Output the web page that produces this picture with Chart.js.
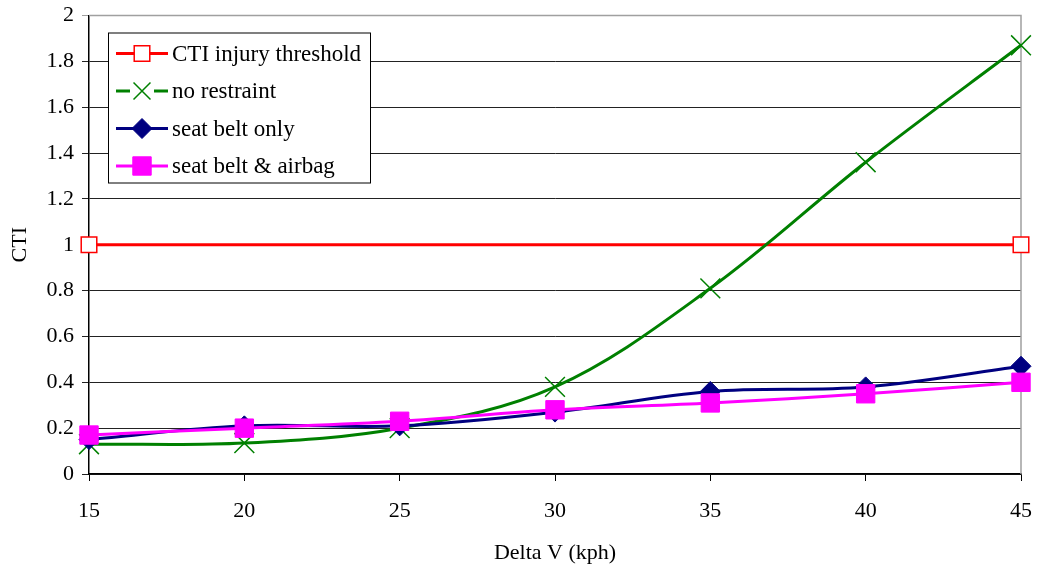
<!DOCTYPE html>
<html>
<head>
<meta charset="utf-8">
<script src="https://cdn.jsdelivr.net/npm/chart.js@4/dist/chart.umd.min.js"></script>
<style>
  html, body { margin: 0; padding: 0; background: #fff; }
  #wrap { width: 1039px; height: 568px; }
</style>
</head>
<body>
<div id="wrap"><canvas id="cti_chart" width="1039" height="568"></canvas></div>
<script>
var delta_v = [15, 20, 25, 30, 35, 40, 45];
var threshold_x = [15, 45];
var threshold = [1, 1];
var no_restraint = [0.13, 0.135, 0.2, 0.38, 0.81, 1.36, 1.87];
var belt_only = [0.15, 0.21, 0.21, 0.27, 0.36, 0.38, 0.47];
var belt_airbag = [0.17, 0.2, 0.23, 0.28, 0.31, 0.35, 0.4];
var y_ticks = [0, 0.2, 0.4, 0.6, 0.8, 1, 1.2, 1.4, 1.6, 1.8, 2];

var serif = '"Liberation Serif", "Times New Roman", serif';

function toPoints(xs, ys) {
  return xs.map(function (x, i) { return { x: x, y: ys[i] }; });
}

function noPad(s) {
  s.paddingLeft = 0;
  s.paddingRight = 0;
  s.paddingTop = 0;
  s.paddingBottom = 0;
}

// legend drawn inside the plot, line + marker like the original
var boxLegend = {
  id: 'boxLegend',
  afterDraw: function (chart) {
    var ctx = chart.ctx;
    var a = chart.chartArea;
    var x0 = a.left + 19, y0 = a.top + 17, w = 262, h = 150;
    ctx.save();
    ctx.fillStyle = '#fff';
    ctx.fillRect(x0, y0, w, h);
    ctx.strokeStyle = '#000';
    ctx.lineWidth = 1;
    ctx.strokeRect(x0 + 0.5, y0 + 0.5, w, h);
    ctx.font = '23px ' + serif;
    ctx.textBaseline = 'middle';
    chart.data.datasets.forEach(function (ds, i) {
      var cy = y0 + 21 + i * 37.5;
      var lx = x0 + 8, rx = x0 + 60, mx = (lx + rx) / 2;
      ctx.strokeStyle = ds.borderColor;
      ctx.lineWidth = 3;
      ctx.beginPath();
      ctx.moveTo(lx, cy);
      ctx.lineTo(rx, cy);
      ctx.stroke();
      if (ds.pointStyle === 'crossRot') {
        ctx.fillStyle = '#fff';
        ctx.fillRect(mx - 12, cy - 3, 24, 6);
      }
      ctx.fillStyle = ds.pointBackgroundColor;
      ctx.strokeStyle = ds.pointBorderColor;
      ctx.lineWidth = ds.pointBorderWidth;
      var r = ds.pointStyle === 'crossRot' ? 12 : ds.pointRadius;
      Chart.helpers.drawPoint(ctx, { pointStyle: ds.pointStyle, radius: r, borderWidth: ds.pointBorderWidth }, mx, cy);
      ctx.fillStyle = '#000';
      ctx.textAlign = 'left';
      ctx.fillText(ds.label, rx + 4, cy + 1);
    });
    ctx.restore();
  }
};

var plotFrame = {
  id: 'plotFrame',
  beforeDatasetsDraw: function (chart) {
    var ctx = chart.ctx;
    var a = chart.chartArea;
    ctx.save();
    ctx.strokeStyle = '#a0a0a0';
    ctx.lineWidth = 1.5;
    ctx.beginPath();
    ctx.moveTo(a.left, a.top);
    ctx.lineTo(a.right, a.top);
    ctx.lineTo(a.right, a.bottom);
    ctx.stroke();
    ctx.restore();
  }
};

new Chart(document.getElementById('cti_chart').getContext('2d'), {
  type: 'line',
  data: {
    datasets: [
      {
        label: 'CTI injury threshold',
        data: toPoints(threshold_x, threshold),
        borderColor: '#ff0000',
        borderWidth: 3,
        pointStyle: 'rect',
        pointRadius: 11,
        pointBackgroundColor: '#fff',
        pointBorderColor: '#ff0000',
        pointBorderWidth: 1.5,
        tension: 0,
        clip: false,
        order: 3
      },
      {
        label: 'no restraint',
        data: toPoints(delta_v, no_restraint),
        borderColor: '#008000',
        borderWidth: 3,
        pointStyle: 'crossRot',
        pointRadius: 14,
        pointBackgroundColor: '#008000',
        pointBorderColor: '#008000',
        pointBorderWidth: 1.5,
        tension: 0.35,
        clip: false,
        order: 2
      },
      {
        label: 'seat belt only',
        data: toPoints(delta_v, belt_only),
        borderColor: '#000080',
        borderWidth: 3,
        pointStyle: 'rectRot',
        pointRadius: 10,
        pointBackgroundColor: '#000080',
        pointBorderColor: '#000080',
        pointBorderWidth: 1,
        tension: 0.35,
        clip: false,
        order: 1
      },
      {
        label: 'seat belt & airbag',
        data: toPoints(delta_v, belt_airbag),
        borderColor: '#ff00ff',
        borderWidth: 3,
        pointStyle: 'rect',
        pointRadius: 13,
        pointBackgroundColor: '#ff00ff',
        pointBorderColor: '#ff00ff',
        pointBorderWidth: 1,
        tension: 0.35,
        clip: false,
        order: 0
      }
    ]
  },
  options: {
    responsive: false,
    animation: false,
    layout: { padding: { left: 0, right: 18, top: 15, bottom: 0 } },
    plugins: {
      legend: { display: false },
      tooltip: { enabled: false }
    },
    scales: {
      x: {
        type: 'linear',
        min: 15,
        max: 45,
        afterFit: function (s) { s.height = 94; noPad(s); },
        ticks: {
          stepSize: 5,
          color: '#000',
          padding: 17,
          font: { family: serif, size: 22 }
        },
        grid: { drawOnChartArea: false, drawTicks: true, tickLength: 7, color: '#000' },
        border: { color: '#000', width: 1.5 },
        title: {
          display: true,
          text: 'Delta V (kph)',
          color: '#000',
          font: { family: serif, size: 22 },
          padding: { top: 4, bottom: 2 }
        }
      },
      y: {
        min: 0,
        max: 2,
        afterFit: function (s) { s.width = 89; noPad(s); },
        afterBuildTicks: function (s) { s.ticks = y_ticks.map(function (v) { return { value: v }; }); },
        ticks: {
          color: '#000',
          padding: 8,
          font: { family: serif, size: 22 },
          callback: function (v) { return String(v); }
        },
        grid: {
          color: function (c) { return c.tick && c.tick.value === 2 ? '#a0a0a0' : '#222'; },
          lineWidth: 1,
          tickLength: 7
        },
        border: { color: '#000', width: 1.5 },
        title: {
          display: true,
          text: 'CTI',
          color: '#000',
          font: { family: serif, size: 22 },
          padding: { top: 7, bottom: 4 }
        }
      }
    }
  },
  plugins: [plotFrame, boxLegend]
});
</script>
</body>
</html>
